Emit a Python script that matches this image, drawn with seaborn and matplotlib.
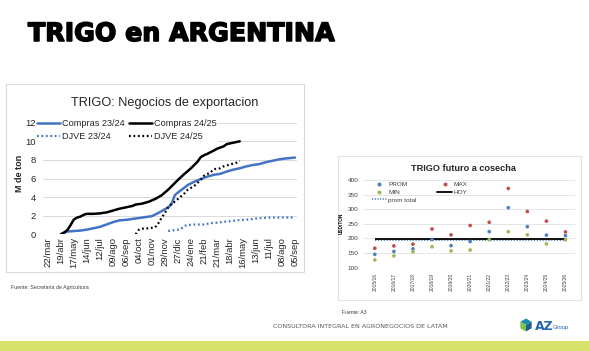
import numpy as np
import pandas as pd
import matplotlib
matplotlib.use("Agg")
import matplotlib.pyplot as plt
import matplotlib.patheffects as pe
from matplotlib.patches import Rectangle, Polygon
from matplotlib.lines import Line2D
import seaborn as sns

# ---------------- data: left chart (weekly index, M de ton) ----------------
tick_labels = ["22/mar", "19/abr", "17/may", "14/jun", "12/jul", "09/ago", "06/sep",
               "04/oct", "01/nov", "29/nov", "27/dic", "24/ene", "21/feb", "21/mar",
               "18/abr", "16/may", "13/jun", "11/jul", "08/ago", "05/sep"]

compras_2425_wk = [4, 5, 6, 7, 8, 9, 10, 11, 12, 14, 16, 18, 20, 22, 24, 26, 27, 29, 31, 33,
                   35, 37, 39, 40, 42, 44, 46, 47, 48, 49, 51, 52, 54, 55, 57, 59]
compras_2425 = [0, 0.2, 0.45, 1.0, 1.6, 1.8, 1.9, 2.1, 2.2, 2.2, 2.25, 2.35, 2.55, 2.75, 2.9,
                3.05, 3.2, 3.3, 3.5, 3.8, 4.2, 4.8, 5.5, 5.85, 6.5, 7.1, 7.8, 8.3, 8.5, 8.65,
                9.0, 9.2, 9.45, 9.7, 9.85, 10.0]

compras_2324_wk = [4, 5, 6, 8, 10, 12, 14, 16, 18, 20, 22, 24, 26, 28, 30, 32, 34, 36, 37, 38,
                   39, 40, 41, 43, 45, 47, 49, 51, 53, 55, 57, 59, 61, 63, 65, 67, 69, 71, 73, 76]
compras_2324 = [0, 0.15, 0.3, 0.35, 0.4, 0.5, 0.65, 0.8, 1.05, 1.3, 1.5, 1.55, 1.65, 1.75, 1.85,
                1.95, 2.3, 2.7, 2.9, 3.2, 4.2, 4.5, 4.75, 5.3, 5.65, 5.95, 6.2, 6.4, 6.5, 6.75,
                6.95, 7.1, 7.3, 7.45, 7.55, 7.75, 7.9, 8.05, 8.15, 8.25]

djve_2425_wk = [27, 28, 29, 31, 33, 34, 35, 36, 37, 38, 39, 40, 41, 42, 43, 45, 47, 48, 50, 51,
                53, 54, 56, 58, 59]
djve_2425 = [0, 0.5, 0.6, 0.65, 0.75, 1.2, 1.8, 2.3, 2.9, 3.3, 3.5, 3.8, 4.1, 4.4, 4.8, 5.2,
             5.85, 6.3, 6.65, 7.0, 7.1, 7.3, 7.5, 7.7, 7.9]

djve_2324_wk = [37, 38, 40, 41, 42, 43, 45, 48, 50, 52, 54, 56, 58, 60, 62, 64, 66, 68, 70, 73, 76]
djve_2324 = [0.35, 0.4, 0.5, 0.6, 0.9, 1.0, 1.05, 1.05, 1.2, 1.25, 1.35, 1.4, 1.5, 1.55, 1.6,
             1.7, 1.75, 1.8, 1.8, 1.8, 1.8]

# ---------------- data: right chart (USD/TON) ----------------
seasons = ["2015/16", "2016/17", "2017/18", "2018/19", "2019/20", "2020/21",
           "2021/22", "2022/23", "2023/24", "2024/25", "2025/26"]
prom = [145, 155, 164, 196, 175, 189, 223, 305, 240, 211, 209]
maxv = [166, 174, 180, 232, 212, 244, 255, 371, 292, 259, 222]
minv = [126, 140, 154, 171, 157, 160, 195, 223, 212, 181, 195]
hoy = 199
prom_total = 195

# ---------------- figure ----------------
sns.set_style("white")
plt.rcParams["font.family"] = ["Liberation Sans", "DejaVu Sans"]
W, H = 589, 351
fig = plt.figure(figsize=(W / 100, H / 100), dpi=100)


def fx(px):
    return px / W


def fy(py):
    return 1 - py / H


# slide title
fig.text(fx(28), fy(34), "TRIGO en ARGENTINA", fontsize=18.2, fontweight="bold",
         family="DejaVu Sans", color="black", va="center", ha="left",
         path_effects=[pe.withStroke(linewidth=1.1, foreground="black")])

# panel borders
fig.add_artist(Rectangle((fx(6), fy(272)), fx(304) - fx(6), fy(84) - fy(272),
                         transform=fig.transFigure, fill=False, edgecolor="#D9D9D9", lw=0.8))
fig.add_artist(Rectangle((fx(338), fy(300)), fx(581) - fx(338), fy(156) - fy(300),
                         transform=fig.transFigure, fill=False, edgecolor="#E3E3E3", lw=0.8))

# ---------------- left chart ----------------
BLUE = "#4472C4"
ax1 = fig.add_axes([fx(43), fy(234.3), fx(297) - fx(43), fy(122.7) - fy(234.3)])
rows = []
for name, wk, vals in [("Compras 23/24", compras_2324_wk, compras_2324),
                       ("DJVE 23/24", djve_2324_wk, djve_2324),
                       ("Compras 24/25", compras_2425_wk, compras_2425),
                       ("DJVE 24/25", djve_2425_wk, djve_2425)]:
    rows.append(pd.DataFrame({"semana": wk, "valor": vals, "serie": name}))
df1 = pd.concat(rows, ignore_index=True)

styles = {"Compras 23/24": dict(color=BLUE, ls="-", lw=1.8),
          "DJVE 23/24": dict(color=BLUE, ls=(0, (0.8, 1.2)), lw=1.6),
          "Compras 24/25": dict(color="black", ls="-", lw=1.8),
          "DJVE 24/25": dict(color="black", ls=(0, (0.8, 1.2)), lw=1.6)}
handles = []
for name in ["Compras 23/24", "DJVE 23/24", "Compras 24/25", "DJVE 24/25"]:
    st = styles[name]
    sns.lineplot(data=df1[df1["serie"] == name], x="semana", y="valor", ax=ax1,
                 color=st["color"], linestyle=st["ls"], linewidth=st["lw"], legend=False)
    handles.append(Line2D([], [], color=st["color"], linestyle=st["ls"], linewidth=st["lw"],
                          label=name))

ax1.set_xlim(-1.5, 76.6)
ax1.set_ylim(0, 12)
ax1.set_yticks(range(0, 13, 2))
ax1.set_xticks(range(0, 4 * len(tick_labels), 4))
ax1.set_xticklabels(tick_labels, rotation=90, fontsize=6.8, color="#262626")
ax1.tick_params(axis="y", labelsize=6.8, labelcolor="#262626", length=0, pad=5)
ax1.tick_params(axis="x", length=0, pad=2)
ax1.grid(axis="y", color="#D9D9D9", lw=0.7)
ax1.set_axisbelow(True)
for s in ax1.spines.values():
    s.set_visible(False)
ax1.set_xlabel("")
ax1.set_ylabel("")
fig.text(fx(20), fy(173), "M de ton", rotation=90, fontsize=6.5, fontweight="bold",
         ha="center", va="center", color="#262626")
fig.text(fx(164.5), fy(103), "TRIGO: Negocios de exportacion", fontsize=9.2,
         ha="center", va="center", color="#262626")
leg1 = ax1.legend(handles=handles, ncol=2, loc="upper left",
                  bbox_to_anchor=(fx(36), fy(117.5)), bbox_transform=fig.transFigure,
                  fontsize=6.6, handlelength=2.5, handletextpad=0.2, columnspacing=0.5,
                  labelspacing=0.45, borderpad=0.15, borderaxespad=0, frameon=True,
                  fancybox=False)
leg1.get_frame().set_facecolor("white")
leg1.get_frame().set_edgecolor("none")
leg1.get_frame().set_alpha(1)
for t in leg1.get_texts():
    t.set_color("#262626")
fig.text(fx(11), fy(287), "Fuente: Secretaria de Agricultura", fontsize=3.8,
         ha="left", va="center", color="#404040")

# ---------------- right chart ----------------
RBLUE, RRED, RGREEN = "#4F81BD", "#C0504D", "#9BBB59"
ax2 = fig.add_axes([fx(363), fy(267.5), fx(575) - fx(363), fy(180) - fy(267.5)])
pos = list(range(len(seasons)))
df2 = pd.DataFrame({"pos": pos * 3,
                    "valor": prom + maxv + minv,
                    "serie": ["PROM"] * len(pos) + ["MAX"] * len(pos) + ["MIN"] * len(pos)})
pal = {"PROM": RBLUE, "MAX": RRED, "MIN": RGREEN}
ax2.hlines(prom_total, pos[0], pos[-1], colors=RBLUE, linestyles=(0, (0.7, 0.9)), lw=1.3,
           zorder=2)
ax2.hlines(hoy, pos[0], pos[-1], colors="black", lw=1.3, zorder=3)
sns.scatterplot(data=df2, x="pos", y="valor", hue="serie", palette=pal, s=7,
                edgecolor="none", ax=ax2, legend=False, zorder=4)
ax2.set_xlim(-0.62, 10.5)
ax2.set_ylim(100, 400)
ax2.set_yticks(range(100, 401, 50))
ax2.set_xticks(pos)
ax2.set_xticklabels(seasons, rotation=90, fontsize=3.6, color="#404040")
ax2.tick_params(axis="y", labelsize=4.6, labelcolor="#404040", length=0, pad=3)
ax2.tick_params(axis="x", length=0, pad=4)
ax2.grid(axis="y", color="#E0E0E0", lw=0.6)
ax2.set_axisbelow(True)
for s in ax2.spines.values():
    s.set_visible(False)
ax2.set_xlabel("")
ax2.set_ylabel("")
fig.text(fx(341), fy(223), "USD/TON", rotation=90, fontsize=3.4, fontweight="bold",
         ha="center", va="center", color="black")
fig.text(fx(463), fy(168), "TRIGO futuro a cosecha", fontsize=6.6, fontweight="bold",
         ha="center", va="center", color="#262626")
h2 = [Line2D([], [], color=RBLUE, marker="o", ls="none", markersize=1.9, label="PROM"),
      Line2D([], [], color=RGREEN, marker="o", ls="none", markersize=1.9, label="MIN"),
      Line2D([], [], color=RBLUE, ls=(0, (0.7, 0.9)), lw=1.2, label="prom total"),
      Line2D([], [], color=RRED, marker="o", ls="none", markersize=1.9, label="MAX"),
      Line2D([], [], color="black", lw=1.3, label="HOY")]
leg2 = ax2.legend(handles=h2, ncol=2, loc="upper left",
                  bbox_to_anchor=(fx(371), fy(181)), bbox_transform=fig.transFigure,
                  fontsize=4.6, handlelength=2.4, handletextpad=0.2, columnspacing=3.2,
                  labelspacing=0.35, borderpad=0.1, borderaxespad=0, frameon=False)
for t in leg2.get_texts():
    t.set_color("#404040")
fig.text(fx(342), fy(313), "Fuente: A3", fontsize=3.6, ha="left", va="center",
         color="#404040")

# ---------------- footer ----------------
fig.text(fx(273), fy(326), "CONSULTORA INTEGRAL EN AGRONEGOCIOS DE LATAM", fontsize=4.6,
         ha="left", va="center", color="#595959", family="DejaVu Sans")
# small cube logo
cx, cy, r = 526, 325, 6.5
top = [(cx, cy), (cx - r * 0.87, cy - r * 0.5), (cx, cy - r), (cx + r * 0.87, cy - r * 0.5)]
left = [(cx, cy), (cx - r * 0.87, cy - r * 0.5), (cx - r * 0.87, cy + r * 0.5), (cx, cy + r)]
right = [(cx, cy), (cx + r * 0.87, cy - r * 0.5), (cx + r * 0.87, cy + r * 0.5), (cx, cy + r)]
for pts, col in [(top, "#1B8FA6"), (left, "#7CC243"), (right, "#1E5C9A")]:
    fig.add_artist(Polygon([(fx(a), fy(b)) for a, b in pts], closed=True,
                           transform=fig.transFigure, facecolor=col, edgecolor="none"))
fig.text(fx(535), fy(326), "AZ", fontsize=9, fontweight="bold", ha="left", va="center",
         color="#2266B0", family="DejaVu Sans")
fig.text(fx(553), fy(327.5), "Group", fontsize=4.2, ha="left", va="center",
         color="#2266B0")
fig.add_artist(Rectangle((0, 0), 1, fy(341), transform=fig.transFigure,
                         facecolor="#D7E26A", edgecolor="none"))

fig.savefig("out.png", dpi=100)
